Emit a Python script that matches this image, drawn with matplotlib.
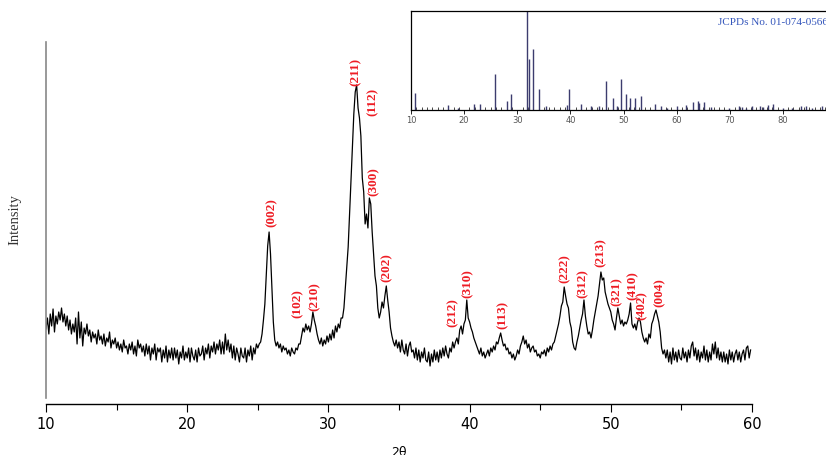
import numpy as np
import matplotlib
matplotlib.use("Agg")
import matplotlib.pyplot as plt
from matplotlib.ticker import MultipleLocator

# XRD pattern, 2theta from 10.0 to 59.9 in 0.1 steps (one row per degree)
two_theta = np.round(np.arange(10.0, 60.0, 0.1), 1)
intensity = np.array([
    75, 86, 70, 90, 78, 95, 72, 88, 80, 92,
    84, 96, 82, 90, 78, 88, 74, 84, 70, 80,
    72, 86, 60, 92, 66, 82, 58, 76, 70, 80,
    68, 74, 62, 72, 66, 70, 60, 74, 64, 68,
    60, 70, 58, 66, 62, 72, 56, 64, 60, 66,
    56, 62, 54, 60, 52, 64, 56, 58, 50, 60,
    54, 62, 50, 58, 48, 64, 56, 60, 52, 58,
    48, 60, 50, 58, 44, 56, 50, 60, 44, 56,
    52, 56, 42, 54, 46, 58, 42, 54, 46, 56,
    44, 56, 46, 54, 40, 52, 46, 58, 44, 52,
    46, 56, 42, 56, 48, 44, 54, 42, 56, 48,
    50, 58, 44, 56, 50, 60, 46, 58, 52, 62,
    50, 60, 54, 64, 50, 62, 50, 70, 54, 64,
    52, 60, 46, 58, 44, 56, 50, 42, 56, 48,
    46, 56, 42, 54, 48, 58, 44, 56, 50, 60,
    56, 60, 62, 70, 84, 100, 128, 158, 172, 150,
    115, 82, 64, 58, 62, 56, 60, 52, 58, 54,
    56, 50, 54, 48, 56, 52, 50, 56, 54, 60,
    60, 68, 76, 72, 80, 74, 78, 72, 80, 92,
    84, 78, 70, 64, 60, 66, 58, 64, 60, 68,
    62, 70, 64, 74, 66, 78, 72, 80, 76, 86,
    86, 96, 116, 135, 157, 190, 225, 255, 290, 312,
    319, 296, 286, 268, 226, 212, 180, 190, 176, 206,
    200, 172, 150, 128, 118, 96, 86, 92, 102, 96,
    108, 118, 104, 92, 76, 68, 62, 58, 64, 56,
    62, 52, 64, 54, 50, 60, 48, 58, 62, 52,
    54, 46, 56, 44, 54, 42, 52, 46, 56, 44,
    42, 52, 38, 50, 42, 54, 44, 52, 42, 54,
    46, 56, 48, 58, 50, 46, 56, 52, 62, 56,
    62, 66, 60, 74, 78, 70, 80, 84, 104, 86,
    82, 76, 72, 66, 62, 58, 54, 50, 56, 48,
    52, 46, 50, 54, 48, 56, 52, 58, 54, 62,
    60, 66, 71, 64, 58, 60, 54, 56, 50, 52,
    46, 50, 44, 48, 54, 50, 58, 62, 68, 60,
    64, 56, 60, 52, 56, 58, 52, 54, 48, 50,
    46, 52, 50, 54, 48, 56, 52, 58, 54, 60,
    62, 68, 74, 80, 88, 98, 102, 117, 108, 100,
    96, 82, 76, 62, 56, 54, 62, 68, 76, 84,
    90, 104, 88, 78, 70, 72, 66, 74, 84, 92,
    100, 108, 120, 132, 124, 126, 112, 106, 100, 96,
    92, 84, 80, 74, 86, 96, 88, 80, 84, 78,
    82, 80, 84, 90, 101, 80, 76, 80, 74, 82,
    86, 82, 72, 66, 62, 66, 60, 70, 66, 80,
    84, 90, 94, 88, 82, 72, 56, 50, 54, 46,
    54, 42, 52, 40, 56, 44, 52, 42, 54, 46,
    44, 56, 46, 52, 42, 54, 46, 58, 62, 48,
    56, 44, 54, 42, 52, 46, 58, 44, 54, 42,
    52, 44, 60, 50, 62, 46, 56, 44, 52, 42,
    52, 42, 50, 40, 54, 44, 52, 42, 50, 54,
    44, 52, 42, 50, 54, 44, 56, 58, 46, 54,
])

# Miller indices: label, 2theta and label height
hkl_labels = ["(002)", "(102)", "(210)", "(211)", "(112)", "(300)", "(202)",
              "(212)", "(310)", "(113)", "(222)", "(312)", "(213)", "(321)",
              "(410)", "(402)", "(004)"]
hkl_pos = [25.99, 27.84, 29.0, 31.96, 33.16, 33.23, 34.15,
           38.83, 39.89, 42.37, 46.76, 48.03, 49.31, 50.44,
           51.57, 52.21, 53.49]
hkl_height = [191, 100, 107, 332, 302, 222, 136,
              91, 120, 89, 135, 120, 151, 112, 118, 98, 111]

# JCPDS 01-074-0566 reference lines (relative intensity, %)
ref_pos = [10.8, 16.9, 18.8, 21.8, 22.9, 25.9, 28.1, 28.9, 31.8, 32.2,
           33.0, 34.0, 35.5, 39.3, 39.8, 42.0, 43.8, 45.3, 46.7, 48.1,
           48.7, 49.5, 50.5, 51.3, 52.1, 53.2, 56.0, 57.1, 58.2, 60.0,
           61.7, 63.0, 64.0, 64.3, 65.1, 66.4, 69.8, 71.7, 72.3, 73.0,
           74.1, 75.7, 76.2, 77.2, 78.2, 80.1, 81.7, 83.5, 84.3, 85.4,
           87.4]
ref_int = [17, 5, 2, 6, 6, 36, 9, 16, 100, 52,
           62, 21, 4, 5, 21, 6, 4, 4, 29, 12,
           4, 31, 16, 12, 12, 14, 6, 4, 2, 4,
           5, 8, 9, 7, 8, 3, 2, 4, 3, 2,
           4, 4, 3, 5, 6, 2, 2, 4, 4, 2,
           4]

fig = plt.figure(figsize=(8.26, 4.55), dpi=100)

ax = fig.add_axes([0.0557, 0.1253, 0.8547, 0.7824])
ax.plot(two_theta, intensity, color="black", lw=0.9)
ax.set_xlim(10, 60)
ax.set_ylim(6, 362)

for lab, x, y in zip(hkl_labels, hkl_pos, hkl_height):
    ax.text(x, y, lab, rotation=90, ha="center", va="center", color="#ee1c24",
            fontsize=9.5, fontweight="bold", family="Liberation Serif")

ax.spines["top"].set_visible(False)
ax.spines["right"].set_visible(False)
ax.spines["left"].set_color("#888888")
ax.spines["left"].set_linewidth(1.2)
ax.spines["bottom"].set_position(("outward", 4.3))
ax.spines["bottom"].set_linewidth(1.0)
ax.set_yticks([])
ax.xaxis.set_major_locator(MultipleLocator(10))
ax.xaxis.set_minor_locator(MultipleLocator(5))
ax.tick_params(axis="x", which="major", length=6, width=0.8, direction="out")
ax.tick_params(axis="x", which="minor", length=4, width=0.8, direction="out")
for t in ax.get_xticklabels():
    t.set_family(["Liberation Sans Narrow", "DejaVu Sans"])
    t.set_fontsize(10.5)
ax.set_xlabel("2θ", fontsize=9, family=["Liberation Sans Narrow", "DejaVu Sans"],
              labelpad=10)
ax.set_ylabel("Intensity", fontsize=10.5, family="Liberation Serif", color="#333333",
              labelpad=18)

# inset with reference pattern
ins = fig.add_axes([0.4976, 0.7582, 0.5145, 0.2176])
ins.vlines(ref_pos, 0, ref_int, color="#3c3c6e", lw=1.0)
ins.set_xlim(10, 90)
ins.set_ylim(0, 100)
ins.set_yticks([])
ins.xaxis.set_major_locator(MultipleLocator(10))
ins.xaxis.set_minor_locator(MultipleLocator(1))
ins.tick_params(axis="x", which="major", length=3, width=0.6, direction="out",
                labelsize=6, labelcolor="#555555", pad=1.5)
ins.tick_params(axis="x", which="minor", length=2, width=0.5, direction="in")
for s in ins.spines.values():
    s.set_linewidth(0.9)
fig.text(0.869, 0.9516, "JCPDs No. 01-074-0566", color="#3355bb", fontsize=8,
         family="Liberation Serif", ha="left", va="center")

fig.savefig("out.png", dpi=100)
